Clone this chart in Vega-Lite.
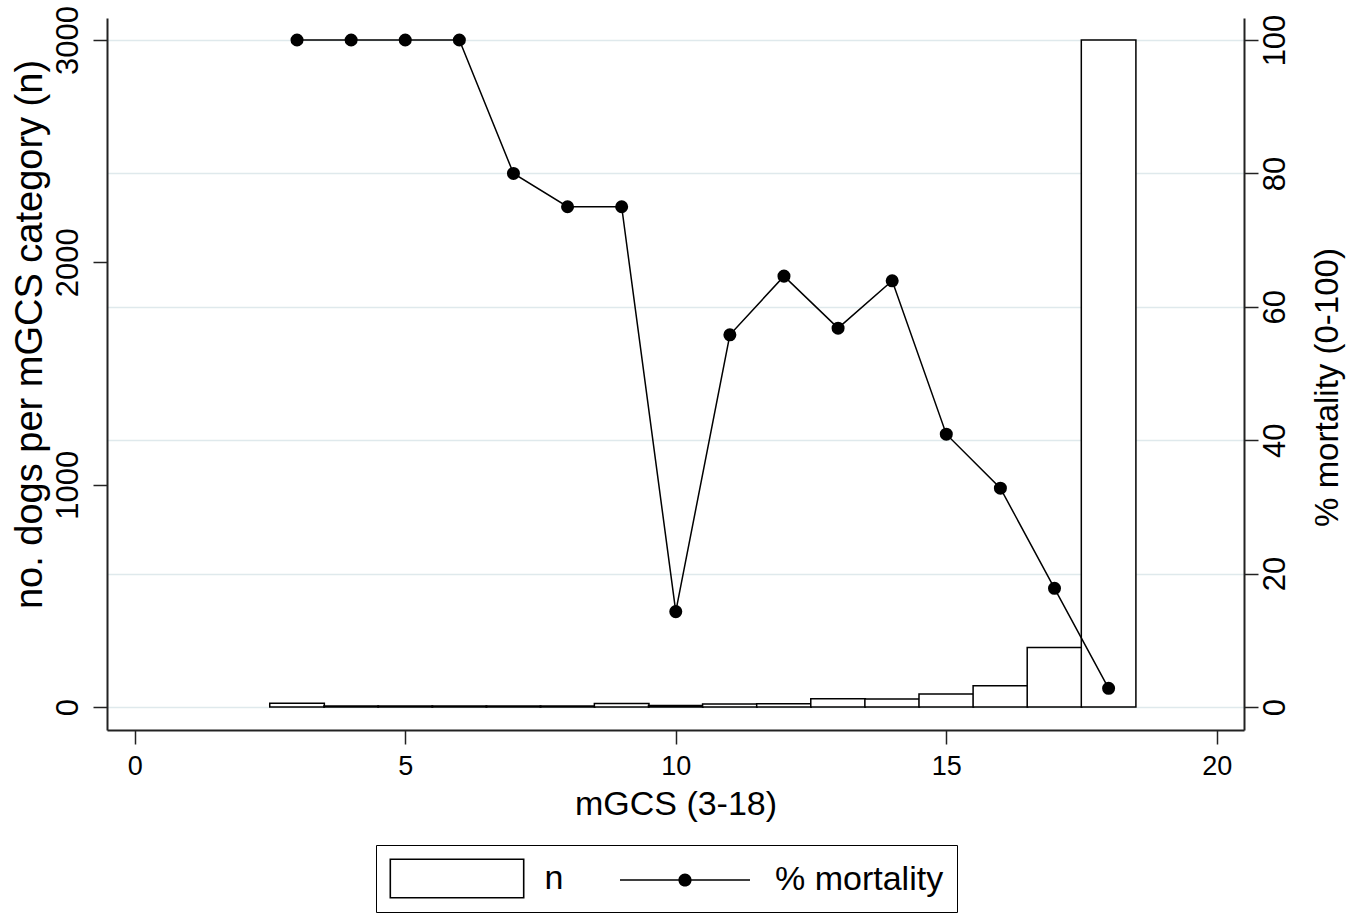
{
  "$schema": "https://vega.github.io/schema/vega-lite/v6.json",
  "width": 1137,
  "height": 712,
  "autosize": {"type": "none"},
  "padding": {"left": 107, "top": 18, "right": 116, "bottom": 184},
  "background": "white",
  "config": {
    "view": {"stroke": null},
    "font": "Liberation Sans",
    "axis": {
      "domainColor": "#222222",
      "domainWidth": 2,
      "tickColor": "#222222",
      "tickWidth": 1.5,
      "tickSize": 14,
      "labelColor": "black",
      "titleColor": "black",
      "labelFont": "Liberation Sans",
      "titleFont": "Liberation Sans",
      "titleFontWeight": "normal",
      "grid": false
    }
  },
  "data": {
    "values": [
      {"mgcs": 3, "n": 17, "mortality": 100},
      {"mgcs": 4, "n": 4, "mortality": 100},
      {"mgcs": 5, "n": 4, "mortality": 100},
      {"mgcs": 6, "n": 4, "mortality": 100},
      {"mgcs": 7, "n": 5, "mortality": 80},
      {"mgcs": 8, "n": 4, "mortality": 75},
      {"mgcs": 9, "n": 16, "mortality": 75},
      {"mgcs": 10, "n": 7, "mortality": 14.3},
      {"mgcs": 11, "n": 14, "mortality": 55.8},
      {"mgcs": 12, "n": 15, "mortality": 64.6},
      {"mgcs": 13, "n": 37, "mortality": 56.8},
      {"mgcs": 14, "n": 36, "mortality": 63.9},
      {"mgcs": 15, "n": 58, "mortality": 40.9},
      {"mgcs": 16, "n": 96, "mortality": 32.8},
      {"mgcs": 17, "n": 268, "mortality": 17.8},
      {"mgcs": 18, "n": 3000, "mortality": 2.8}
    ]
  },
  "layer": [
    {
      "mark": {"type": "bar", "width": 54.6, "fill": "white", "stroke": "black", "strokeWidth": 1.5},
      "encoding": {
        "x": {
          "field": "mgcs",
          "type": "quantitative",
          "scale": {"domain": [-0.42, 20.41], "nice": false, "zero": false},
          "axis": {
            "values": [0, 5, 10, 15, 20],
            "title": "mGCS (3-18)",
            "labelFontSize": 27,
            "labelBaseline": "alphabetic",
            "labelPadding": 30,
            "labelFlush": false,
            "titleFontSize": 34,
            "titleBaseline": "alphabetic",
            "titleY": 84
          }
        },
        "y": {
          "field": "n",
          "type": "quantitative",
          "scale": {"domain": [-103.4, 3099], "nice": false, "zero": false},
          "axis": {
            "orient": "left",
            "values": [0, 1000, 2000, 3000],
            "format": "d",
            "labelAngle": 270,
            "labelAlign": "center",
            "labelBaseline": "alphabetic",
            "labelPadding": 16,
            "labelFontSize": 31,
            "title": "no. dogs per mGCS category (n)",
            "titleFontSize": 38,
            "titleAngle": 270,
            "titleAlign": "center",
            "titleBaseline": "alphabetic",
            "titleX": -66,
            "titleY": 316
          }
        }
      }
    },
    {
      "mark": {
        "type": "line",
        "color": "black",
        "strokeWidth": 1.5,
        "point": {"filled": true, "fill": "black", "size": 170, "opacity": 1}
      },
      "encoding": {
        "x": {"field": "mgcs", "type": "quantitative"},
        "y": {
          "field": "mortality",
          "type": "quantitative",
          "scale": {"domain": [-3.448, 103.3], "nice": false, "zero": false},
          "axis": {
            "orient": "right",
            "values": [0, 20, 40, 60, 80, 100],
            "grid": true,
            "gridColor": "#dfe9ec",
            "gridWidth": 1.5,
            "labelAngle": 270,
            "labelAlign": "center",
            "labelBaseline": "alphabetic",
            "labelPadding": 26,
            "labelFontSize": 31,
            "title": "% mortality (0-100)",
            "titleFontSize": 33,
            "titleAngle": 270,
            "titleAlign": "center",
            "titleBaseline": "alphabetic",
            "titleX": 93,
            "titleY": 369
          }
        }
      }
    },
    {
      "data": {"values": []},
      "mark": {"type": "point", "filled": true, "fill": "black", "strokeWidth": 0, "opacity": 1},
      "encoding": {
        "shape": {
          "datum": "n",
          "scale": {
            "domain": ["n", "% mortality"],
            "range": [
              "M-1,-1H5.75V1H-1ZM-0.92,-0.92V0.92H5.67V-0.92Z",
              "M-1,-0.04H5.5V0.04H-1ZM1.92,0A0.33,0.33,0,1,1,2.58,0A0.33,0.33,0,1,1,1.92,0Z"
            ]
          },
          "legend": {
            "title": null,
            "orient": "none",
            "legendX": 269,
            "legendY": 827,
            "direction": "horizontal",
            "columns": 2,
            "symbolSize": 1600,
            "symbolStrokeWidth": 0,
            "symbolFillColor": "black",
            "symbolOpacity": 1,
            "labelOffset": 115,
            "columnPadding": 56.5,
            "padding": 13.5,
            "strokeColor": "black",
            "fillColor": "white",
            "labelFont": "Liberation Sans",
            "labelFontSize": 34,
            "labelColor": "black",
            "labelLimit": 400
          }
        }
      }
    }
  ],
  "resolve": {"scale": {"y": "independent"}}
}
